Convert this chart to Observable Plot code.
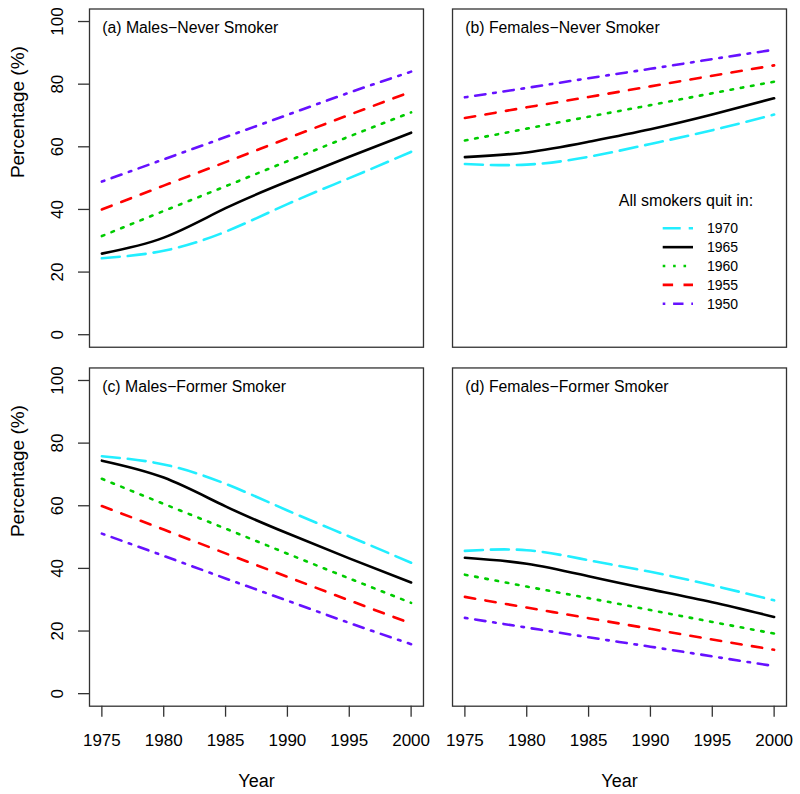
<!DOCTYPE html>
<html>
<head>
<meta charset="utf-8">
<script src="https://cdn.jsdelivr.net/npm/d3@7"></script>
<script src="https://cdn.jsdelivr.net/npm/@observablehq/plot@0.6"></script>
<style>
  body { margin: 0; background: #fff; }
  #chart { position: relative; width: 800px; height: 794px; }
  #chart svg { font-family: "Liberation Sans", Arial, sans-serif; }
  #legend { position: absolute; left: 0; top: 0; pointer-events: none; }
</style>
</head>
<body>
<div id="chart"></div>
<script>
// ---- data ----
const years = [1975, 1980, 1985, 1990, 1995, 2000];
const cohorts = ["1970", "1965", "1960", "1955", "1950"];
const sexes = ["Males", "Females"];
const statuses = ["Never", "Former"];
const panelTitles = ["(a) Males\u2212Never Smoker", "(b) Females\u2212Never Smoker", "(c) Males\u2212Former Smoker", "(d) Females\u2212Former Smoker"];
const xTicks = [1975, 1980, 1985, 1990, 1995, 2000];
const yTicks = [0, 20, 40, 60, 80, 100];
const legendTitle = "All smokers quit in:";

// rows follow cohorts order: 1970, 1965, 1960, 1955, 1950
const malesNever = [
  [24.4, 26.8, 32.9, 41.7, 50.0, 58.4],
  [25.9, 31.0, 40.4, 48.9, 56.8, 64.5],
  [31.5, 39.5, 47.4, 55.4, 63.3, 71.0],
  [40.0, 47.6, 55.1, 62.7, 70.2, 77.6],
  [48.9, 56.0, 63.1, 70.2, 77.3, 84.0]
];
const femalesNever = [
  [54.5, 54.3, 56.8, 60.9, 65.3, 70.3],
  [56.7, 58.2, 61.6, 65.6, 70.3, 75.5],
  [62.0, 65.8, 69.6, 73.3, 77.1, 80.8],
  [69.2, 72.6, 75.9, 79.3, 82.7, 86.0],
  [75.8, 78.8, 81.9, 84.9, 88.0, 91.0]
];
const malesFormer = [
  [75.8, 73.2, 67.0, 58.5, 50.2, 41.8],
  [74.4, 69.0, 59.8, 51.2, 43.2, 35.5],
  [68.6, 60.6, 52.7, 44.7, 36.8, 29.0],
  [59.9, 52.4, 44.8, 37.3, 29.8, 22.4],
  [51.1, 44.0, 36.8, 29.7, 22.6, 15.8]
];
const femalesFormer = [
  [45.6, 45.8, 42.6, 38.9, 34.6, 29.8],
  [43.4, 41.5, 37.5, 33.3, 29.2, 24.5],
  [38.0, 34.2, 30.5, 26.7, 22.9, 19.2],
  [30.9, 27.5, 24.1, 20.7, 17.3, 14.0],
  [24.2, 21.1, 18.0, 15.0, 11.9, 8.8]
];

// ---- styles ----
const colors = ["#22eeff", "#000000", "#00cc00", "#ff0000", "#6611ff"];
const dashes = ["18,8", "none", "2.6,7.8", "10.4,10.4", "2.6,7.8,10.4,7.8"];
const lineW = 2.6;

// ---- build table ----
const panels = [
  {sex: "Males", status: "Never", values: malesNever, title: panelTitles[0]},
  {sex: "Females", status: "Never", values: femalesNever, title: panelTitles[1]},
  {sex: "Males", status: "Former", values: malesFormer, title: panelTitles[2]},
  {sex: "Females", status: "Former", values: femalesFormer, title: panelTitles[3]}
];
const rows = [];
panels.forEach(p => {
  cohorts.forEach((c, k) => {
    years.forEach((yr, i) => {
      rows.push({sex: p.sex, status: p.status, cohort: c, year: yr, value: p.values[k][i]});
    });
  });
});
const titleRows = panels.map(p => ({sex: p.sex, status: p.status, title: p.title}));
const bottomRows = panels.filter(p => p.status === "Former");
const leftRows = panels.filter(p => p.sex === "Males");
const xTickRows = bottomRows.flatMap(p => xTicks.map(t => ({sex: p.sex, status: p.status, tick: t})));
const yTickRows = leftRows.flatMap(p => yTicks.map(t => ({sex: p.sex, status: p.status, tick: t})));

const font = 17;

const lineMarks = cohorts.map((c, k) =>
  Plot.line(rows.filter(d => d.cohort === c), {
    x: "year", y: "value", fx: "sex", fy: "status",
    stroke: colors[k], strokeWidth: lineW, strokeDasharray: dashes[k],
    curve: "natural"
  })
).reverse();

const chart = Plot.plot({
  width: 800,
  height: 794,
  marginLeft: 89,
  marginRight: 14,
  marginTop: 8.5,
  marginBottom: 88.3,
  style: {fontFamily: "'Liberation Sans', Arial, sans-serif", color: "#000", background: "#fff"},
  fx: {domain: sexes, paddingInner: 0.08, paddingOuter: 0, round: false, axis: null},
  fy: {domain: statuses, paddingInner: 0.0577, paddingOuter: 0, round: false, axis: null},
  x: {domain: [1974, 2001]},
  y: {domain: [-4, 104]},
  marks: [
    ...lineMarks,
    Plot.frame({stroke: "#333", strokeWidth: 1.3}),
    Plot.axisX({anchor: "bottom", ticks: xTicks, tickSize: 11, tickFormat: () => "",
      label: null, stroke: "#333", strokeWidth: 1.3}),
    Plot.axisY({anchor: "left", ticks: yTicks, tickSize: 11, tickFormat: () => "",
      label: null, stroke: "#333", strokeWidth: 1.3}),
    Plot.text(xTickRows, {fx: "sex", fy: "status", x: "tick", text: d => String(d.tick),
      frameAnchor: "bottom", dy: 27.3, lineAnchor: "top", fontSize: font}),
    Plot.text(yTickRows, {fx: "sex", fy: "status", y: "tick", text: d => String(d.tick),
      frameAnchor: "left", dx: -27, rotate: -90, lineAnchor: "bottom", textAnchor: "middle", fontSize: font}),
    Plot.text(titleRows, {fx: "sex", fy: "status", text: "title", frameAnchor: "top-left",
      dx: 12.7, dy: 24.2, lineAnchor: "bottom", textAnchor: "start", fontSize: 15.8}),
    Plot.text(bottomRows, {fx: "sex", fy: "status", text: () => "Year", frameAnchor: "bottom",
      dy: 80.5, lineAnchor: "bottom", fontSize: 18}),
    Plot.text(leftRows, {fx: "sex", fy: "status", text: () => "Percentage (%)", frameAnchor: "left",
      dx: -66, rotate: -90, lineAnchor: "bottom", fontSize: 19})
  ]
});
document.getElementById("chart").appendChild(chart);

// ---- legend (overlay in panel b) ----
const leg = d3.select("#chart").append("svg")
  .attr("id", "legend").attr("width", 800).attr("height", 794)
  .style("font-family", "'Liberation Sans', Arial, sans-serif");
leg.append("text").attr("x", 686).attr("y", 200).attr("text-anchor", "middle")
  .attr("dominant-baseline", "central").attr("font-size", 16).text(legendTitle);
cohorts.forEach((c, k) => {
  const y = 228.3 + k * 18.85;
  leg.append("line").attr("x1", 662.7).attr("x2", 693).attr("y1", y).attr("y2", y)
    .attr("stroke", colors[k]).attr("stroke-width", lineW)
    .attr("stroke-dasharray", dashes[k]);
  leg.append("text").attr("x", 707).attr("y", y).attr("dominant-baseline", "central")
    .attr("font-size", 14).text(c);
});
</script>
</body>
</html>
